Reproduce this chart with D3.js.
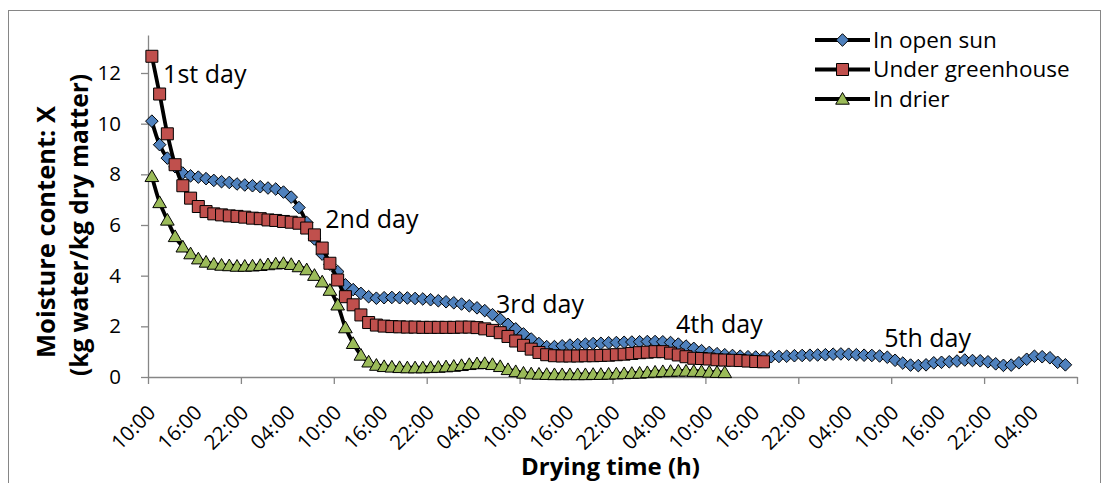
<!DOCTYPE html>
<html>
<head>
<meta charset="utf-8">
<script src="https://cdn.jsdelivr.net/npm/d3@7"></script>
<style>
  body { margin: 0; background: #fff; }
  text { font-family: "Open Sans", sans-serif; fill: #000; }
</style>
</head>
<body>
<div id="chart"></div>
<script>
// series (kg water / kg dry matter), one value per hour starting 10:00 day 1
var openSun = [
  10.1, 9.17, 8.64, 8.3, 8.05, 7.94, 7.89, 7.83, 7.76, 7.71,
  7.68, 7.62, 7.58, 7.55, 7.51, 7.46, 7.42, 7.3, 7.1, 6.69,
  6.1, 5.45, 4.85, 4.45, 4.16, 3.64, 3.45, 3.3, 3.17, 3.11,
  3.13, 3.14, 3.13, 3.12, 3.1, 3.08, 3.05, 3.01, 2.97, 2.93,
  2.88, 2.81, 2.73, 2.62, 2.46, 2.28, 2.08, 1.9, 1.7, 1.5,
  1.32, 1.2, 1.2, 1.23, 1.26, 1.28, 1.3, 1.32, 1.33, 1.35,
  1.36, 1.37, 1.38, 1.39, 1.4, 1.4, 1.39, 1.36, 1.3, 1.22,
  1.13, 1.04, 0.97, 0.92, 0.88, 0.85, 0.82, 0.8, 0.79, 0.78,
  0.8, 0.81, 0.82, 0.84, 0.85, 0.86, 0.87, 0.88, 0.9, 0.91,
  0.9, 0.88, 0.86, 0.85, 0.83, 0.78, 0.66, 0.55, 0.47, 0.45,
  0.48, 0.56, 0.58, 0.6, 0.63, 0.67, 0.65, 0.64, 0.6, 0.52,
  0.46, 0.47, 0.56, 0.7, 0.82, 0.8, 0.76, 0.58, 0.48
];
var greenhouse = [
  12.66, 11.17, 9.6, 8.38, 7.55, 7.06, 6.73, 6.53, 6.44, 6.4,
  6.36, 6.34, 6.31, 6.27, 6.25, 6.2, 6.18, 6.14, 6.11, 6.07,
  5.88, 5.61, 5.09, 4.49, 3.83, 3.17, 2.85, 2.45, 2.15, 2.05,
  2.01, 1.99, 1.98, 1.97, 1.97, 1.96, 1.96, 1.96, 1.96, 1.96,
  1.97, 1.97, 1.95, 1.9, 1.84, 1.75, 1.6, 1.42, 1.25, 1.1,
  0.97, 0.88, 0.84, 0.83, 0.83, 0.83, 0.84, 0.84, 0.85, 0.86,
  0.88, 0.9, 0.93, 0.96, 0.98, 1.0, 1.0, 0.94, 0.87, 0.8,
  0.74, 0.73, 0.71, 0.68, 0.67, 0.66, 0.65, 0.63, 0.61, 0.6
];
var drier = [
  7.92, 6.89, 6.2, 5.55, 5.14, 4.87, 4.67, 4.54, 4.46, 4.42,
  4.4, 4.38, 4.38, 4.39, 4.41, 4.44, 4.47, 4.49, 4.45, 4.36,
  4.24, 4.02, 3.76, 3.43, 2.85, 1.95, 1.33, 0.87, 0.6, 0.47,
  0.42, 0.4, 0.38, 0.37, 0.37, 0.37, 0.38, 0.39, 0.41, 0.43,
  0.46, 0.5, 0.53, 0.54, 0.5, 0.42, 0.3, 0.22, 0.16, 0.13,
  0.12, 0.11, 0.1, 0.1, 0.1, 0.1, 0.1, 0.11, 0.11, 0.12,
  0.13, 0.14, 0.15, 0.16, 0.18, 0.2, 0.22, 0.23, 0.24, 0.24,
  0.23, 0.22, 0.2, 0.19, 0.18
];

var seriesNames = ["In open sun", "Under greenhouse", "In drier"];
var nHours = 120;
var tickLabels = ["10:00", "16:00", "22:00", "04:00", "10:00", "16:00", "22:00", "04:00",
                  "10:00", "16:00", "22:00", "04:00", "10:00", "16:00", "22:00", "04:00",
                  "10:00", "16:00", "22:00", "04:00"];
var yTicks = [0, 2, 4, 6, 8, 10, 12];

// day notes: text, hour where it starts, level of the baseline
var dayNotes = ["1st day", "2nd day", "3rd day", "4th day", "5th day"];
var noteHours = [1.95, 22.9, 44.95, 68.2, 95.1];
var noteLevels = [11.6, 5.88, 2.53, 1.74, 1.18];

var width = 1104,
    height = 483;

var svg = d3.select("#chart").append("svg")
    .attr("width", width)
    .attr("height", height);

svg.append("rect")
    .attr("x", 8.5).attr("y", 10.5)
    .attr("width", 1092).attr("height", 480)
    .attr("fill", "none")
    .attr("stroke", "#868686");

var x = d3.scaleBand()
    .domain(d3.range(nHours))
    .range([148, 1077]);

var xLin = d3.scaleLinear()
    .domain([0, nHours])
    .range([148, 1077]);

var y = d3.scaleLinear()
    .domain([0, 13.5])
    .range([377, 35]);

// y axis
var yAxis = svg.append("g")
    .attr("transform", "translate(148,0)")
    .call(d3.axisLeft(y).tickValues(yTicks).tickSize(7).tickPadding(20).tickSizeOuter(0));
yAxis.select(".domain").attr("stroke", "#868686").attr("stroke-width", 1.3);
yAxis.selectAll(".tick line").attr("stroke", "#868686").attr("stroke-width", 1.3);
yAxis.selectAll("text")
    .style("font-size", "20.5px")
    .style("font-family", "'Open Sans', sans-serif")
    .attr("fill", "#000");

// x axis: tick marks every 12 h
var xAxis = svg.append("g")
    .attr("transform", "translate(0,377)")
    .call(d3.axisBottom(xLin).tickValues(d3.range(0, nHours + 1, 12)).tickSize(7).tickSizeOuter(0).tickFormat(""));
xAxis.select(".domain").attr("stroke", "#868686").attr("stroke-width", 1.3);
xAxis.selectAll(".tick line").attr("stroke", "#868686").attr("stroke-width", 1.3);

// x labels every 6 h
var labelHours = d3.range(0, nHours, 6);
var xLab = svg.append("g")
    .attr("transform", "translate(0,377)")
    .call(d3.axisBottom(x).tickValues(labelHours).tickSize(0)
      .tickFormat(function(d, i) { return tickLabels[i]; }));
xLab.select(".domain").remove();
xLab.selectAll("text")
    .attr("x", 0).attr("y", 0).attr("dy", 0)
    .attr("text-anchor", "end")
    .attr("transform", "translate(5,37) rotate(-45)")
    .style("font-size", "20.5px")
    .style("font-family", "'Open Sans', sans-serif")
    .attr("fill", "#000");

// axis titles
svg.append("text")
    .attr("x", (148 + 1077) / 2 - 2)
    .attr("y", 475)
    .attr("text-anchor", "middle")
    .style("font-size", "24px")
    .style("font-weight", "bold")
    .text("Drying time (h)");

svg.append("text")
    .attr("transform", "translate(45,232) rotate(-90)")
    .attr("text-anchor", "middle")
    .attr("dominant-baseline", "central")
    .style("font-size", "25.5px")
    .style("font-weight", "bold")
    .text("Moisture content: X");
svg.append("text")
    .attr("transform", "translate(78,225) rotate(-90)")
    .attr("text-anchor", "middle")
    .attr("dominant-baseline", "central")
    .style("font-size", "24.5px")
    .style("font-weight", "bold")
    .text("(kg water/kg dry matter)");

// marker shapes
var diamond = { draw: function(ctx, s) {
  ctx.moveTo(0, -s); ctx.lineTo(s, 0); ctx.lineTo(0, s); ctx.lineTo(-s, 0); ctx.closePath();
}};
var square = { draw: function(ctx, s) {
  ctx.rect(-s, -s, 2 * s, 2 * s);
}};
var triangle = { draw: function(ctx, s) {
  ctx.moveTo(0, -s); ctx.lineTo(s * 1.05, s * 0.8); ctx.lineTo(-s * 1.05, s * 0.8); ctx.closePath();
}};

var series = [
  { name: seriesNames[0], values: openSun, color: "#4F81BD", shape: diamond, size: 6.3 },
  { name: seriesNames[1], values: greenhouse, color: "#C0504D", shape: square, size: 6 },
  { name: seriesNames[2], values: drier, color: "#9BBB59", shape: triangle, size: 6.5 }
];

var line = d3.line()
    .x(function(d, i) { return x(i) + x.bandwidth() / 2; })
    .y(function(d) { return y(d); })
    .curve(d3.curveCatmullRom.alpha(0.5));

series.forEach(function(s) {
  var g = svg.append("g");
  g.append("path")
      .datum(s.values)
      .attr("d", line)
      .attr("fill", "none")
      .attr("stroke", "#000")
      .attr("stroke-width", 3.8)
      .attr("stroke-linejoin", "round");
  g.selectAll("path.m")
      .data(s.values)
    .enter().append("path")
      .attr("class", "m")
      .attr("transform", function(d, i) {
        return "translate(" + (x(i) + x.bandwidth() / 2) + "," + y(d) + ")";
      })
      .attr("d", d3.symbol().type(s.shape).size(s.size))
      .attr("fill", s.color)
      .attr("stroke", "#000")
      .attr("stroke-width", 1);
});

// day notes
svg.selectAll("text.note")
    .data(dayNotes)
  .enter().append("text")
    .attr("class", "note")
    .attr("x", function(d, i) { return xLin(noteHours[i]); })
    .attr("y", function(d, i) { return y(noteLevels[i]); })
    .style("font-size", "25px")
    .text(function(d) { return d; });

// legend
var legend = svg.append("g").attr("transform", "translate(815,40)");
series.forEach(function(s, i) {
  var row = legend.append("g").attr("transform", "translate(0," + (i * 29.5) + ")");
  row.append("line")
      .attr("x1", 0).attr("x2", 55)
      .attr("stroke", "#000").attr("stroke-width", 4);
  row.append("path")
      .attr("transform", "translate(27.5,0)")
      .attr("d", d3.symbol().type(s.shape).size(s.size))
      .attr("fill", s.color)
      .attr("stroke", "#000");
  row.append("text")
      .attr("x", 58)
      .attr("dy", "0.35em")
      .style("font-size", "22.5px")
      .text(s.name);
});
</script>
</body>
</html>
